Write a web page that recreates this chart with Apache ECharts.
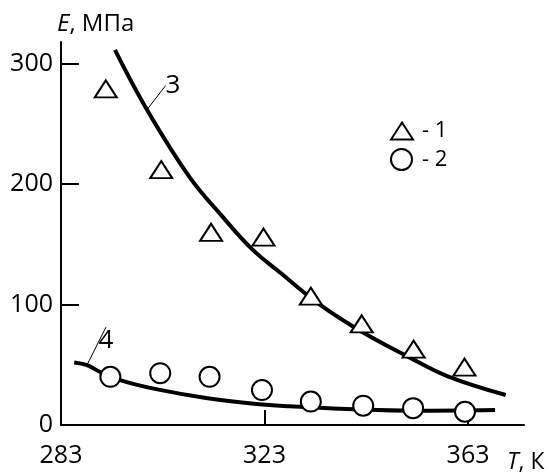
<!DOCTYPE html>
<html>
<head>
<meta charset="utf-8">
<script src="https://cdn.jsdelivr.net/npm/echarts@6/dist/echarts.min.js"></script>
<style>html,body{margin:0;padding:0;background:#fff}#c{width:549px;height:474px}</style>
</head>
<body>
<div id="c"></div>
<script>
// ---- data ----
const X_TICKS = [283, 323, 363];
const Y_TICKS = [0, 100, 200, 300];
const T_TRI = [291.8, 302.7, 312.5, 322.8, 332.1, 342.1, 352.3, 362.3];
const E_TRI = [279, 212, 160, 156, 107, 84, 63, 48];
const T_CIR = [292.7, 302.5, 312.2, 322.5, 332.1, 342.4, 352.2, 362.4];
const E_CIR = [40, 43, 40, 29, 19.5, 16, 14, 11];
const T_CURVE3 = [293.6, 299.9, 308.2, 314.7, 320.6, 326.0, 333.8, 342.3, 351.0, 358.9, 370.4];
const E_CURVE3 = [311.5, 261.8, 206.3, 173.2, 145.8, 126.8, 100.2, 77.0, 57.2, 40.6, 24.9];
const T_CURVE4 = [285.6, 288.1, 290.8, 295.1, 301.7, 311.5, 321.4, 327.9, 339.1, 352.2, 368.3];
const E_CURVE4 = [51.9, 49.7, 43.8, 36.7, 29.8, 22.4, 17.4, 15.5, 13.3, 11.8, 12.4];
const CURVE3_LABEL_IDX = 1;
const CURVE4_LABEL_IDX = 1;

const FONT = 'Open Sans';
const zip = (a, b) => a.map((v, i) => [v, b[i]]);
function curveData(ts, es, idx, text) {
  return ts.map((t, i) => {
    const item = { value: [t, es[i]] };
    if (i === idx) {
      item.label = { show: true, formatter: text };
    }
    return item;
  });
}

const chart = echarts.init(document.getElementById('c'), null, { renderer: 'canvas' });
chart.setOption({
  animation: false,
  backgroundColor: '#fff',
  textStyle: { fontFamily: FONT, color: '#000' },
  grid: { left: 61, right: 25, top: 42, bottom: 48, containLabel: false },
  xAxis: {
    type: 'value', min: 283, max: 374,
    name: '{i|T}, К',
    nameLocation: 'end', nameGap: -17,
    nameTextStyle: {
      fontFamily: FONT, fontSize: 23, color: '#000', align: 'left', verticalAlign: 'top',
      padding: [26, 0, 0, 0],
      rich: { i: { fontStyle: 'italic', fontFamily: FONT, fontSize: 23, color: '#000' } }
    },
    splitLine: { show: false },
    axisLine: { lineStyle: { color: '#000', width: 2 } },
    axisTick: { inside: true, length: 15, lineStyle: { color: '#000', width: 2 }, customValues: X_TICKS },
    axisLabel: { customValues: X_TICKS, fontSize: 25, color: '#000', fontFamily: FONT, margin: 18 }
  },
  yAxis: {
    type: 'value', min: 0, max: 318,
    name: '{i|E}, МПа',
    nameLocation: 'end', nameGap: 18,
    nameTextStyle: {
      fontFamily: FONT, fontSize: 24, color: '#000', align: 'left', verticalAlign: 'middle',
      padding: [0, 0, 0, -4],
      rich: { i: { fontStyle: 'italic', fontFamily: FONT, fontSize: 24, color: '#000' } }
    },
    splitLine: { show: false },
    axisLine: { lineStyle: { color: '#000', width: 2 } },
    axisTick: { inside: true, length: 18, lineStyle: { color: '#000', width: 2 }, customValues: Y_TICKS },
    axisLabel: { customValues: Y_TICKS, fontSize: 25, color: '#000', fontFamily: FONT, margin: 8 }
  },
  legend: [
    {
      data: ['1'], orient: 'vertical', left: 390, top: 120, padding: 0,
      itemWidth: 22, itemHeight: 17, formatter: '- {name}',
      textStyle: { fontSize: 22, fontFamily: FONT, color: '#000', padding: [0, 0, 0, 4] }
    },
    {
      data: ['2'], orient: 'vertical', left: 390, top: 148, padding: 0,
      itemWidth: 21, itemHeight: 21, formatter: '- {name}',
      textStyle: { fontSize: 22, fontFamily: FONT, color: '#000', padding: [0, 0, 0, 5] }
    }
  ],
  series: [
    {
      name: 'curve3', type: 'line', smooth: 0.4, showSymbol: true, symbol: 'circle', symbolSize: 0,
      data: curveData(T_CURVE3, E_CURVE3, CURVE3_LABEL_IDX, '3'),
      lineStyle: { color: '#000', width: 4 }, itemStyle: { color: '#000' },
      label: { show: false, position: 'inside', fontSize: 26, color: '#000', fontFamily: FONT },
      labelLayout: { dx: 26, dy: -24 },
      labelLine: { show: true, lineStyle: { color: '#000', width: 1 } },
      z: 2, silent: true
    },
    {
      name: 'curve4', type: 'line', smooth: 0.4, showSymbol: true, symbol: 'circle', symbolSize: 0,
      data: curveData(T_CURVE4, E_CURVE4, CURVE4_LABEL_IDX, '4'),
      lineStyle: { color: '#000', width: 4 }, itemStyle: { color: '#000' },
      label: { show: false, position: 'inside', fontSize: 26, color: '#000', fontFamily: FONT },
      labelLayout: { dx: 19, dy: -25 },
      labelLine: { show: true, lineStyle: { color: '#000', width: 1 } },
      z: 2, silent: true
    },
    {
      name: '1', type: 'scatter', symbol: 'triangle', symbolSize: [22, 17],
      data: zip(T_TRI, E_TRI),
      itemStyle: { color: '#fff', borderColor: '#000', borderWidth: 2, opacity: 1 },
      z: 3
    },
    {
      name: '2', type: 'scatter', symbol: 'circle', symbolSize: 20,
      data: zip(T_CIR, E_CIR),
      itemStyle: { color: '#fff', borderColor: '#000', borderWidth: 2, opacity: 1 },
      z: 3
    }
  ]
});
</script>
</body>
</html>
